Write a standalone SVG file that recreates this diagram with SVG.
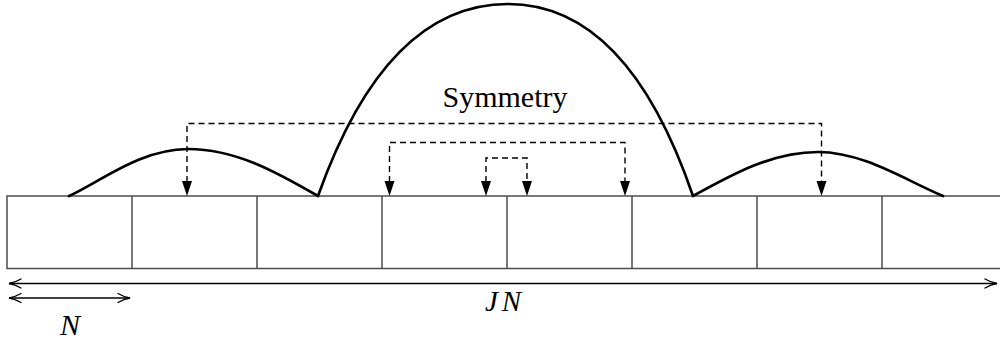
<svg xmlns="http://www.w3.org/2000/svg" width="1000" height="340" viewBox="0 0 1000 340">
  <style>
    .cell { fill: none; stroke: #4d4d4d; stroke-width: 1.5; }
    .curve { fill: none; stroke: #000; stroke-width: 2.7; stroke-linejoin: round; stroke-linecap: round; }
    .dash { fill: none; stroke: #000; stroke-width: 1.4; stroke-dasharray: 6 4; }
    .dim { fill: none; stroke: #000; stroke-width: 1.4; }
    .head { fill: #000; }
  </style>
  <defs>
    <marker id="open" markerUnits="userSpaceOnUse" markerWidth="16" markerHeight="12" refX="13" refY="6" orient="auto-start-reverse" viewBox="0 0 16 12">
      <path d="M1,1.5 Q7,5 13,6 Q7,7 1,10.5" fill="none" stroke="#000" stroke-width="1.4" stroke-linecap="round"/>
    </marker>
  </defs>

  <g id="cells">
    <rect class="cell" x="7" y="196" width="1010" height="72.5"/>
    <line class="cell" x1="132" y1="196" x2="132" y2="268.5"/>
    <line class="cell" x1="257" y1="196" x2="257" y2="268.5"/>
    <line class="cell" x1="382" y1="196" x2="382" y2="268.5"/>
    <line class="cell" x1="507" y1="196" x2="507" y2="268.5"/>
    <line class="cell" x1="632" y1="196" x2="632" y2="268.5"/>
    <line class="cell" x1="757" y1="196" x2="757" y2="268.5"/>
    <line class="cell" x1="882" y1="196" x2="882" y2="268.5"/>
  </g>

  <g id="wave">
    <path class="curve" d="M69,196 C100,182 140,149 188,149 C235.4,149 276.3,171.9 318,196 C345,120 400,4 508,4 C614,4 667,120 693,196 C733.8,173.5 772.8,152 818,152 C863.2,152 905,180 943,196"/>
  </g>

  <g id="connectors">
    <path class="dash" d="M187,182 V123.5 H821.5 V182"/>
    <path class="dash" d="M389.5,182 V142.5 H625 V182"/>
    <path class="dash" d="M486,182 V158 H527 V182"/>
    <path class="head" d="M182,181 L192,181 L187,196 Z"/>
    <path class="head" d="M816.5,181 L826.5,181 L821.5,196 Z"/>
    <path class="head" d="M384.5,181 L394.5,181 L389.5,196 Z"/>
    <path class="head" d="M620,181 L630,181 L625,196 Z"/>
    <path class="head" d="M481,181 L491,181 L486,196 Z"/>
    <path class="head" d="M522,181 L532,181 L527,196 Z"/>
    <line class="dim" x1="9" y1="283.5" x2="997" y2="283.5" marker-start="url(#open)" marker-end="url(#open)"/>
    <line class="dim" x1="9" y1="298" x2="130" y2="298" marker-start="url(#open)" marker-end="url(#open)"/>
  </g>

  <g id="labels">
    <text x="505" y="107" font-family="'Liberation Serif', 'Times New Roman', 'DejaVu Serif', serif" font-size="30" text-anchor="middle">Symmetry</text>
    <text x="505" y="311" font-family="'Liberation Serif', 'Times New Roman', 'DejaVu Serif', serif" font-style="italic" font-size="29" text-anchor="middle" letter-spacing="4">JN</text>
    <text x="70" y="335" font-family="'Liberation Serif', 'Times New Roman', 'DejaVu Serif', serif" font-style="italic" font-size="30" text-anchor="middle">N</text>
  </g>
</svg>
